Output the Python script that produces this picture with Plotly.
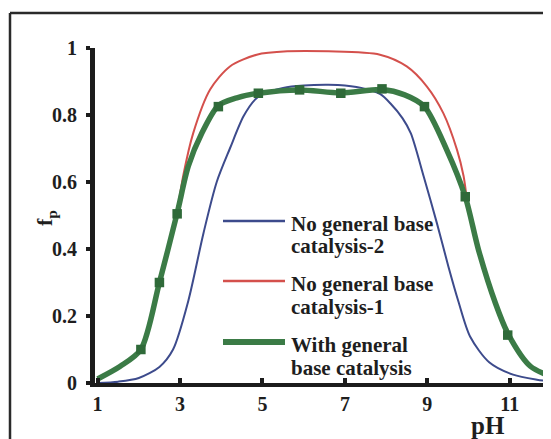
import plotly.graph_objects as go

# ---------------- data ----------------
ph_blue = [1.0, 1.5, 2.0, 2.5, 2.83, 3.2, 3.57, 3.89, 4.21, 4.54, 4.82, 5.0, 5.5, 6.0,
           6.6, 7.0, 7.5, 7.86, 8.1, 8.4, 8.6, 8.91, 9.23, 9.51, 9.75, 10.04, 10.5,
           11.08, 11.66, 12.0]
fp_blue = [0.0, 0.004, 0.015, 0.048, 0.10, 0.245, 0.448, 0.600, 0.700, 0.796, 0.846,
           0.862, 0.881, 0.888, 0.890, 0.888, 0.878, 0.862, 0.835, 0.790, 0.745, 0.617,
           0.478, 0.348, 0.245, 0.138, 0.062, 0.025, 0.010, 0.005]

ph_red = [2.93, 3.08, 3.32, 3.73, 4.21, 4.86, 5.6, 6.6, 7.85, 8.5, 8.99, 9.39, 9.72,
          9.88, 9.94]
fp_red = [0.507, 0.62, 0.746, 0.876, 0.945, 0.980, 0.990, 0.990, 0.980, 0.945, 0.885,
          0.805, 0.696, 0.617, 0.565]

ph_green_line = [1.0, 1.55, 2.05, 2.5, 2.93, 3.2, 3.53, 3.93, 4.4, 4.9, 5.9, 6.9, 7.9,
                 8.45, 8.93, 9.47, 9.92, 10.24, 10.65, 10.97, 11.5, 12.0]
fp_green_line = [0.012, 0.05, 0.10, 0.30, 0.507, 0.647, 0.746, 0.828, 0.852, 0.865,
                 0.875, 0.866, 0.876, 0.86, 0.825, 0.696, 0.556, 0.398, 0.239, 0.144,
                 0.05, 0.02]

ph_green_pts = [2.05, 2.5, 2.93, 3.93, 4.9, 5.9, 6.9, 7.9, 8.93, 9.92, 10.95, 11.95]
fp_green_pts = [0.10, 0.30, 0.505, 0.825, 0.865, 0.875, 0.865, 0.878, 0.825, 0.556,
                0.143, 0.015]

x_ticks = [1, 3, 5, 7, 9, 11]
y_ticks = [0, 0.2, 0.4, 0.6, 0.8, 1]
y_tick_text = ["0", "0.2", "0.4", "0.6", "0.8", "1"]

legend_names = [["No general base", "catalysis-2"],
                ["No general base", "catalysis-1"],
                ["With general", "base catalysis"]]

# ---------------- style ----------------
BLUE = "#3d4b8c"
RED = "#d4504c"
GREEN = "#3b7b46"
GREEN_MK = "#2f6a39"
AXIS = "#1c1c1c"
TXT = "#1e1e1e"
FONT = "Liberation Serif"

OFF = 8                      # page body margin offset
W, H = 551 - OFF, 439 - OFF
ML, MT, MB, MR = 95 - OFF, 48 - OFF, H - (383 - OFF), 0
PW = W - ML - MR
PH = H - MT - MB


def px(x):                   # reference-picture pixel -> paper
    return (x - OFF - ML) / PW


def py(y):
    return (H - MB - (y - OFF)) / PH


fig = go.Figure()
fig.add_trace(go.Scatter(x=ph_blue, y=fp_blue, mode="lines",
                         line=dict(color=BLUE, width=2, shape="spline", smoothing=0.8),
                         showlegend=False))
fig.add_trace(go.Scatter(x=ph_red, y=fp_red, mode="lines",
                         line=dict(color=RED, width=2, shape="spline", smoothing=0.8),
                         showlegend=False))
fig.add_trace(go.Scatter(x=ph_green_line, y=fp_green_line, mode="lines",
                         line=dict(color=GREEN, width=5.5, shape="spline", smoothing=0.8),
                         showlegend=False))
fig.add_trace(go.Scatter(x=ph_green_pts, y=fp_green_pts, mode="markers",
                         marker=dict(symbol="square", size=9.5, color=GREEN_MK),
                         showlegend=False))

# manual legend
legend_colors = [BLUE, RED, GREEN]
legend_widths = [2.5, 2.5, 6]
legend_line_y = [221, 281, 342]
for names, col, lw, ly in zip(legend_names, legend_colors, legend_widths, legend_line_y):
    fig.add_shape(type="line", xref="paper", yref="paper",
                  x0=px(223), x1=px(285), y0=py(ly), y1=py(ly),
                  line=dict(color=col, width=lw))
    for j, t in enumerate(names):
        fig.add_annotation(text=t, xref="paper", yref="paper",
                           x=px(289), y=py(ly + 3 + j * 22.5), xanchor="left", yanchor="middle",
                           showarrow=False,
                           font=dict(family=FONT, size=21, color=TXT, weight="bold"))

# outer frame (top and left edges visible)
fig.add_shape(type="line", xref="paper", yref="paper",
              x0=px(10), x1=1.02, y0=py(13), y1=py(13),
              line=dict(color="#2a2a2a", width=2.5))
fig.add_shape(type="line", xref="paper", yref="paper",
              x0=px(10), x1=px(10), y0=py(13), y1=py(445),
              line=dict(color="#2a2a2a", width=2.5))

# axis titles
fig.add_annotation(text="pH", xref="paper", yref="paper", x=px(488), y=py(425),
                   showarrow=False, xanchor="center", yanchor="middle",
                   font=dict(family=FONT, size=25, color=TXT, weight="bold"))
fig.add_annotation(text="f<sub>p</sub>", xref="paper", yref="paper", x=px(46), y=py(218),
                   showarrow=False, xanchor="center", yanchor="middle", textangle=-90,
                   font=dict(family=FONT, size=22, color=TXT, weight="bold"))

fig.update_xaxes(range=[0.937, 12.0], showgrid=False, zeroline=False,
                 showline=True, linecolor=AXIS, linewidth=4,
                 tickmode="array", tickvals=x_ticks, ticks="inside", ticklen=5,
                 tickwidth=4, tickcolor=AXIS,
                 tickfont=dict(family=FONT, size=20, color=TXT, weight="bold"),
                 ticklabelstandoff=0)
fig.update_yaxes(range=[0, 1.0], showgrid=False, zeroline=False,
                 showline=True, linecolor=AXIS, linewidth=5,
                 tickmode="array", tickvals=y_ticks, ticktext=y_tick_text,
                 ticks="outside", ticklen=4, tickwidth=4, tickcolor=AXIS,
                 tickfont=dict(family=FONT, size=20, color=TXT, weight="bold"),
                 ticklabelstandoff=5)

fig.update_layout(width=W, height=H, margin=dict(l=ML, r=MR, t=MT, b=MB),
                  paper_bgcolor="white", plot_bgcolor="white", showlegend=False)

fig.write_html("out.html")
